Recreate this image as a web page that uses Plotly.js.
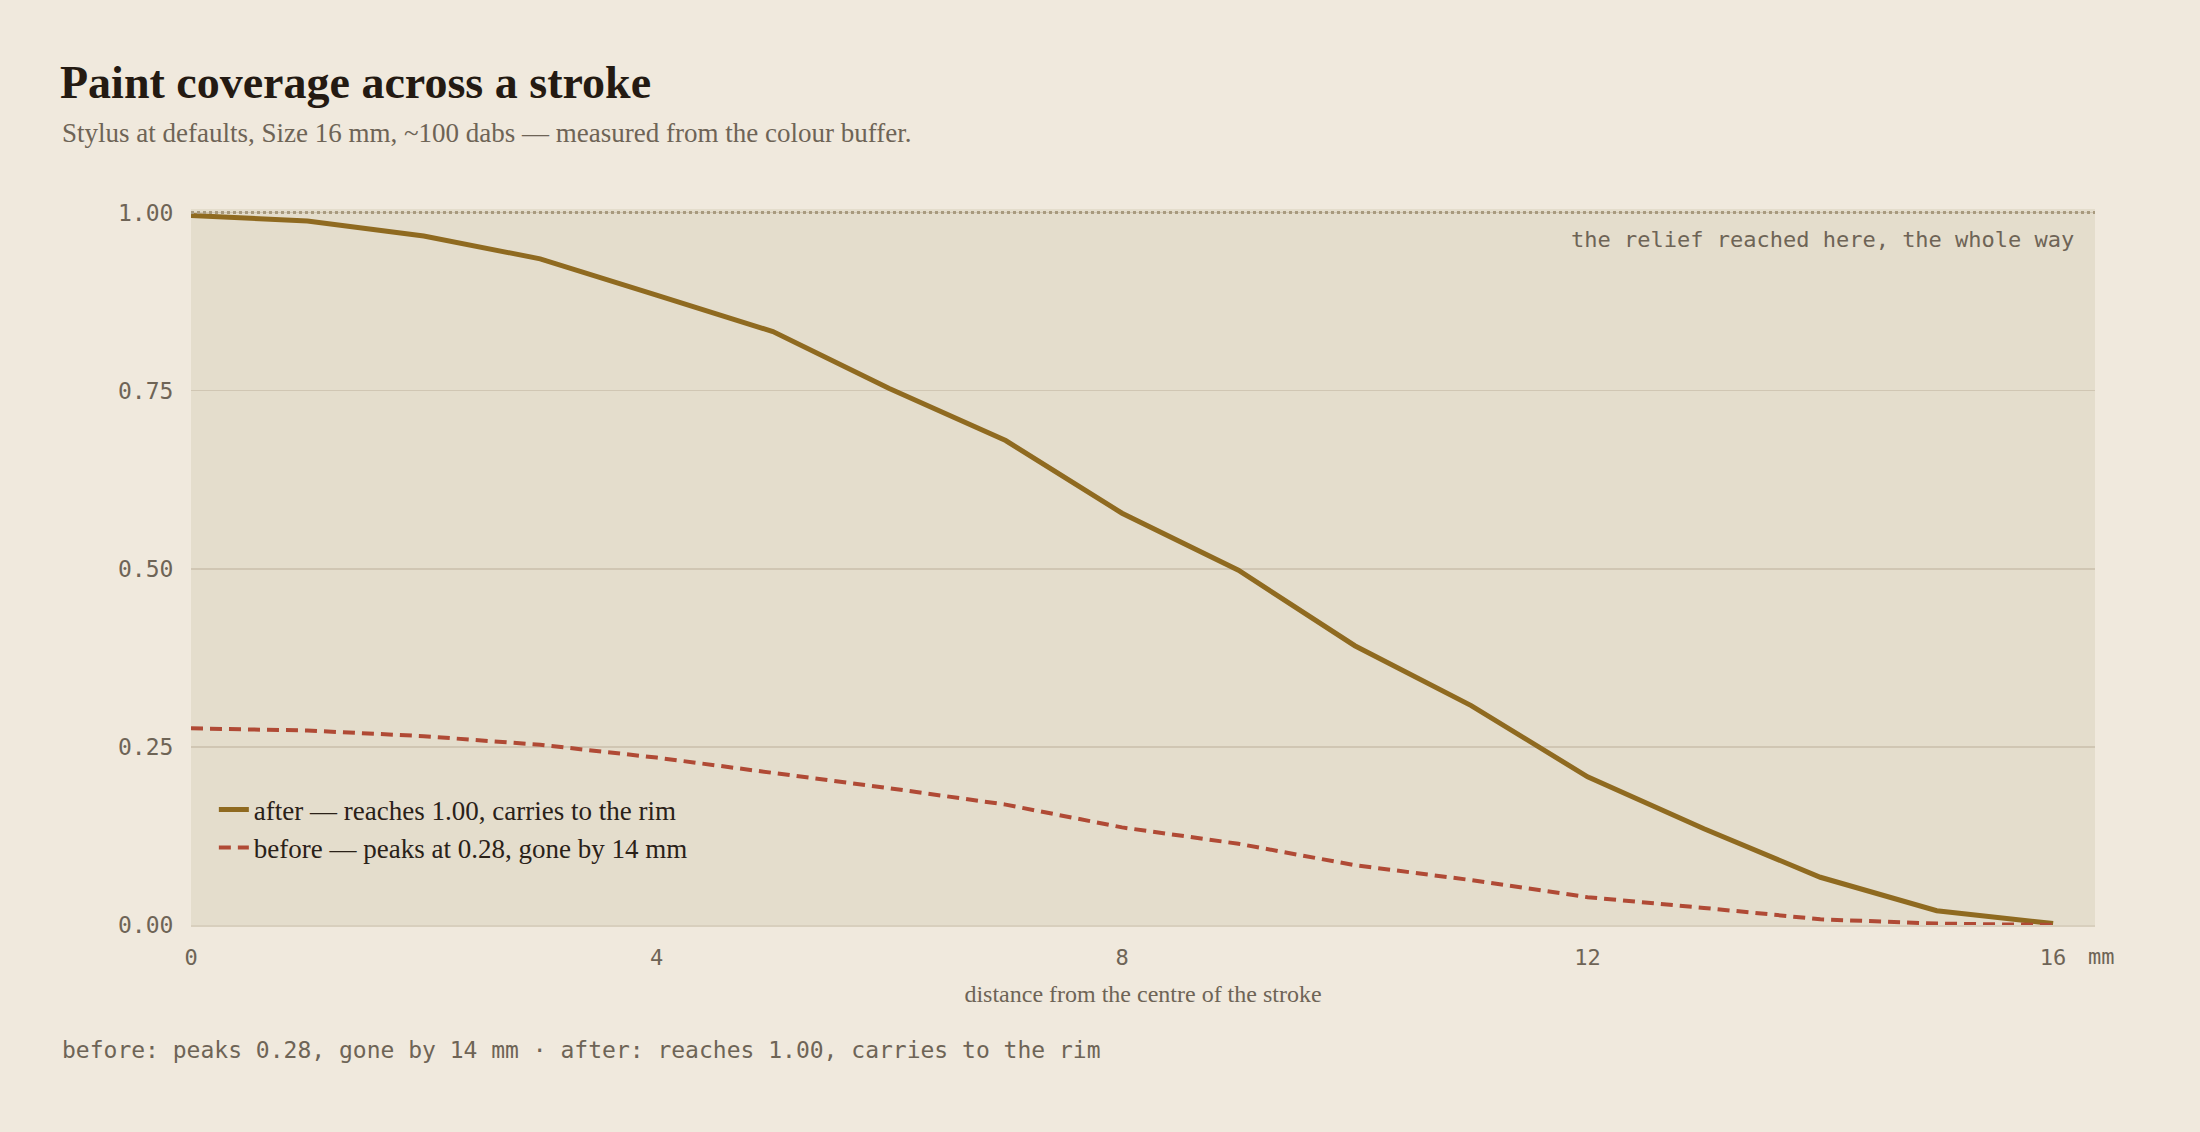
<!DOCTYPE html>
<html>
<head>
<meta charset="utf-8">
<script src="https://cdn.plot.ly/plotly-3.0.1.min.js"></script>
<style>
  html, body { margin: 0; padding: 0; background: #f0e9dd; }
  #chart { width: 2200px; height: 1132px; }
</style>
</head>
<body>
<div id="chart"></div>
<script>
  // distance from the centre of the stroke, mm
  const distance = [0, 1, 2, 3, 4, 5, 6, 7, 8, 9, 10, 11, 12, 13, 14, 15, 16];
  const after = [0.996, 0.988, 0.967, 0.935, 0.884, 0.833, 0.753, 0.68, 0.578, 0.498,
                 0.392, 0.308, 0.208, 0.135, 0.067, 0.02, 0.002];
  const before = [0.276, 0.273, 0.265, 0.253, 0.235, 0.214, 0.192, 0.169, 0.137, 0.114,
                  0.084, 0.063, 0.039, 0.024, 0.008, 0.002, 0.0];
  const xTicks = [0, 4, 8, 12, 16];
  const yTicks = [0, 0.25, 0.5, 0.75, 1.0];

  const serif = '"Liberation Serif", "DejaVu Serif", serif';
  const mono = '"DejaVu Sans Mono", "Liberation Mono", monospace';

  const traces = [
    {
      x: distance, y: after, mode: 'lines',
      name: 'after — reaches 1.00, carries to the rim',
      line: { color: '#8f6a20', width: 5 },
    },
    {
      x: distance, y: before, mode: 'lines',
      name: 'before — peaks at 0.28, gone by 14 mm',
      line: { color: '#b04a35', width: 4, dash: '12px,7px' },
    },
  ];

  const layout = {
    width: 2200, height: 1132,
    paper_bgcolor: '#f0e9dd',
    plot_bgcolor: '#e4ddcc',
    margin: { l: 191, r: 105, t: 209, b: 207 },
    font: { family: serif, color: '#2a2118' },
    title: {
      text: 'Paint coverage across a stroke',
      xref: 'container', yref: 'container', x: 60 / 2200, xanchor: 'left',
      y: 1 - 82 / 1132, yanchor: 'middle',
      font: { family: serif, size: 46, color: '#241a12', weight: 'bold' },
    },
    xaxis: {
      range: [0, 16.36], tickvals: xTicks, ticktext: xTicks.map(String),
      showgrid: false, zeroline: false, showline: true, linecolor: '#d8cfbd', linewidth: 2,
      tickfont: { family: mono, size: 22, color: '#6e6456' },
      ticks: 'outside', ticklen: 12, tickcolor: 'rgba(0,0,0,0)',
      title: { text: 'distance from the centre of the stroke', standoff: 16,
               font: { family: serif, size: 24, color: '#6e6456' } },
    },
    yaxis: {
      range: [0, 1.005], tickvals: yTicks, ticktext: yTicks.map(v => v.toFixed(2)),
      showgrid: true, gridcolor: '#d0c6b3', gridwidth: 1.5, zeroline: false,
      tickfont: { family: mono, size: 23, color: '#6e6456' },
      ticks: 'outside', ticklen: 12, tickcolor: 'rgba(0,0,0,0)',
    },
    showlegend: true,
    legend: {
      x: 0.012, y: 0.195, xanchor: 'left', yanchor: 'top',
      bgcolor: 'rgba(0,0,0,0)', font: { family: serif, size: 27, color: '#2a2118' },
      tracegroupgap: 8,
    },
    shapes: [{
      type: 'line', xref: 'paper', x0: 0, x1: 1, yref: 'y', y0: 1, y1: 1,
      line: { color: '#a89a7e', width: 3, dash: 'dot' },
    }],
    annotations: [
      {
        text: 'Stylus at defaults, Size 16 mm, ~100 dabs — measured from the colour buffer.',
        xref: 'paper', yref: 'paper', x: (60 - 191) / 1904, y: 1.106,
        xanchor: 'left', yanchor: 'middle', showarrow: false,
        font: { family: serif, size: 27, color: '#6e6456' },
      },
      {
        text: 'the relief reached here, the whole way',
        xref: 'paper', yref: 'y', x: 0.99, y: 0.962,
        xanchor: 'right', yanchor: 'middle', showarrow: false,
        font: { family: mono, size: 22, color: '#6e6456' },
      },
      {
        text: 'mm', xref: 'x', yref: 'paper', x: 16, y: 0, yshift: -31, xshift: 48,
        xanchor: 'center', yanchor: 'middle', showarrow: false,
        font: { family: mono, size: 22, color: '#6e6456' },
      },
      {
        text: 'before: peaks 0.28, gone by 14 mm · after: reaches 1.00, carries to the rim',
        xref: 'paper', yref: 'paper', x: (60 - 191) / 1904, y: -0.175,
        xanchor: 'left', yanchor: 'middle', showarrow: false,
        font: { family: mono, size: 23, color: '#6e6456' },
      },
    ],
  };

  Plotly.newPlot('chart', traces, layout, { displayModeBar: false, staticPlot: true });
</script>
</body>
</html>
